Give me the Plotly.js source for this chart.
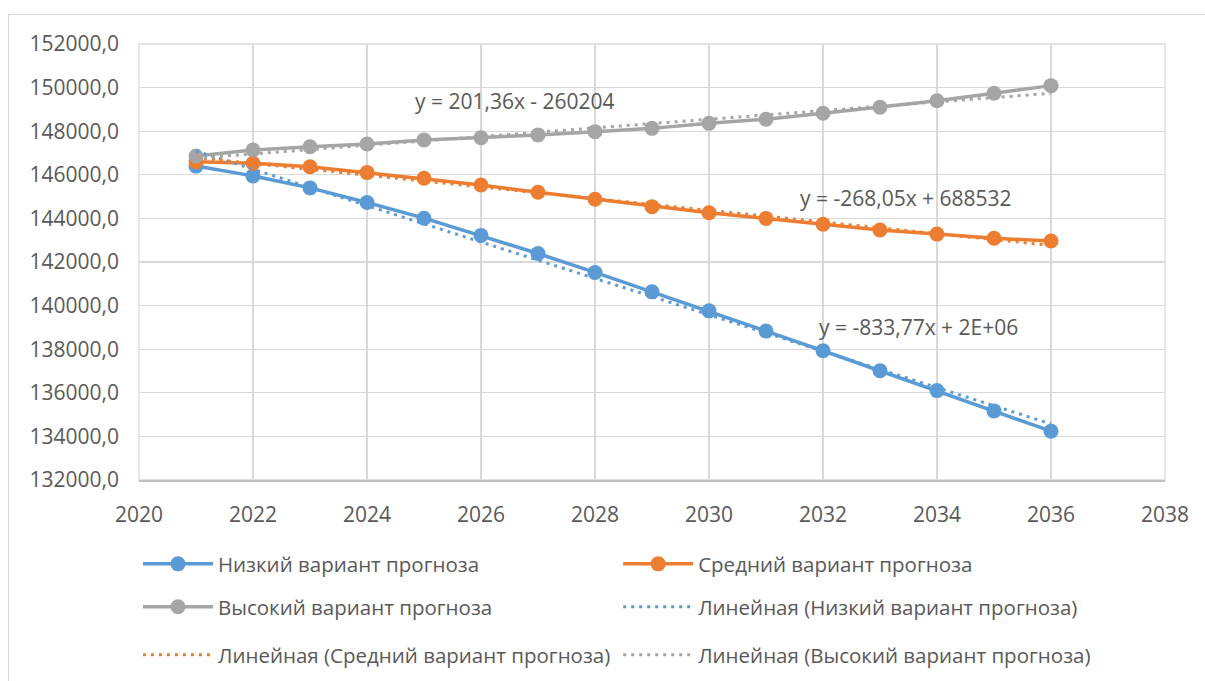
<!DOCTYPE html>
<html><head><meta charset="utf-8">
<script src="https://cdn.plot.ly/plotly-3.0.1.min.js"></script>
<style>
html,body{margin:0;padding:0;background:#fff;}
#frame{position:absolute;left:8px;top:14px;width:1210px;height:680px;border:1px solid #D9D9D9;}
#chart{position:absolute;left:0;top:0;width:1205px;height:681px;}
</style></head><body>
<div id="frame"></div><div id="chart"></div>
<script>
const years = [2021,2022,2023,2024,2025,2026,2027,2028,2029,2030,2031,2032,2033,2034,2035,2036];
const lowForecast  = [146400,145950,145400,144730,144010,143220,142390,141520,140630,139760,138830,137930,137010,136100,135170,134240];
const midForecast  = [146600,146530,146370,146100,145840,145530,145200,144880,144540,144260,144000,143730,143470,143280,143090,142960];
const highForecast = [146860,147140,147290,147410,147600,147700,147830,147980,148130,148360,148550,148820,149100,149400,149740,150090];
const seriesNames = ['Низкий вариант прогноза','Средний вариант прогноза','Высокий вариант прогноза'];
const trendNames = ['Линейная (Низкий вариант прогноза)','Линейная (Средний вариант прогноза)','Линейная (Высокий вариант прогноза)'];
const trendEquations = ['y = -833,77x + 2E+06','y = -268,05x + 688532','y = 201,36x - 260204'];

const colors = ['#5B9BD5','#ED7D31','#A5A5A5'];
const textColor = '#595959';
const FONT = '"Open Sans", "Noto Sans", sans-serif';

function linFit(xs, ys){
  const n = xs.length;
  const mx = xs.reduce((a,b)=>a+b,0)/n, my = ys.reduce((a,b)=>a+b,0)/n;
  let sxy=0, sxx=0;
  for(let i=0;i<n;i++){ sxy += (xs[i]-mx)*(ys[i]-my); sxx += (xs[i]-mx)*(xs[i]-mx); }
  const k = sxy/sxx, b = my - k*mx;
  return xs.map(x => k*x + b);
}

const allSeries = [lowForecast, midForecast, highForecast];
const legendIds = [['legend','legend2','legend3'],['legend4','legend5','legend6']];
const traces = [];
allSeries.forEach((vals,i)=>{
  traces.push({x: years, y: vals, type:'scatter', mode:'lines+markers', name: seriesNames[i],
    line:{color: colors[i], width: 3.5}, marker:{color: colors[i], size: 15},
    legend: legendIds[0][i], hoverinfo:'skip'});
});
allSeries.forEach((vals,i)=>{
  traces.push({x: years, y: linFit(years, vals), type:'scatter', mode:'lines', name: trendNames[i],
    line:{color: colors[i], width: 3, dash:'3px,5px'},
    legend: legendIds[1][i], hoverinfo:'skip'});
});

const legFont = {family: FONT, size: 20.5, color: textColor};
function leg(x, y){
  return {x: x, y: y, xref:'container', yref:'container', xanchor:'left', yanchor:'middle', orientation:'h',
    bgcolor:'rgba(0,0,0,0)', font: legFont, itemwidth: 70, itemclick:false, itemdoubleclick:false};
}
const c1 = 0.1145, c2 = 0.513, r1 = 0.1718, r2 = 0.1087, r3 = 0.0382;

const layout = {
  width: 1205, height: 681,
  margin: {l:139, r:40, t:44, b:201},
  paper_bgcolor:'rgba(0,0,0,0)', plot_bgcolor:'rgba(0,0,0,0)',
  font: {family: FONT, color: textColor},
  showlegend: true,
  xaxis: {range:[2020,2038], dtick:2, tick0:2020, showgrid:true, gridcolor:'#D9D9D9', gridwidth:1.3,
    zeroline:false, showline:true, linecolor:'#BFBFBF', linewidth:1.5, ticks:'', ticklabelstandoff: 15,
    tickfont:{family: FONT, size: 21, color: textColor}, fixedrange:true},
  yaxis: {range:[132000,152000], dtick:2000, tick0:132000, showgrid:true, gridcolor:'#D9D9D9', gridwidth:1.3,
    zeroline:false, showline:false, ticks:'', tickformat:'.1f', ticklabelstandoff: 19,
    tickfont:{family: FONT, size: 21, color: textColor}, fixedrange:true},
  separators: ', ',
  shapes: [{type:'rect', xref:'paper', yref:'paper', x0:0, x1:1, y0:0, y1:1, layer:'below',
    line:{color:'#D9D9D9', width:1.3}}],
  legend: leg(c1, r1), legend2: leg(c2, r1), legend3: leg(c1, r2),
  legend4: leg(c2, r2), legend5: leg(c1, r3), legend6: leg(c2, r3),
  annotations: [
    {x: 2033.68, y: 139018, text: trendEquations[0]},
    {x: 2033.45, y: 144936, text: trendEquations[1]},
    {x: 2026.6, y: 149385, text: trendEquations[2]}
  ].map(a => Object.assign(a, {xref:'x', yref:'y', showarrow:false, font:{family: FONT, size: 21, color: textColor}}))
};

Plotly.newPlot('chart', traces, layout, {staticPlot:true, displayModeBar:false});
</script>
</body></html>
